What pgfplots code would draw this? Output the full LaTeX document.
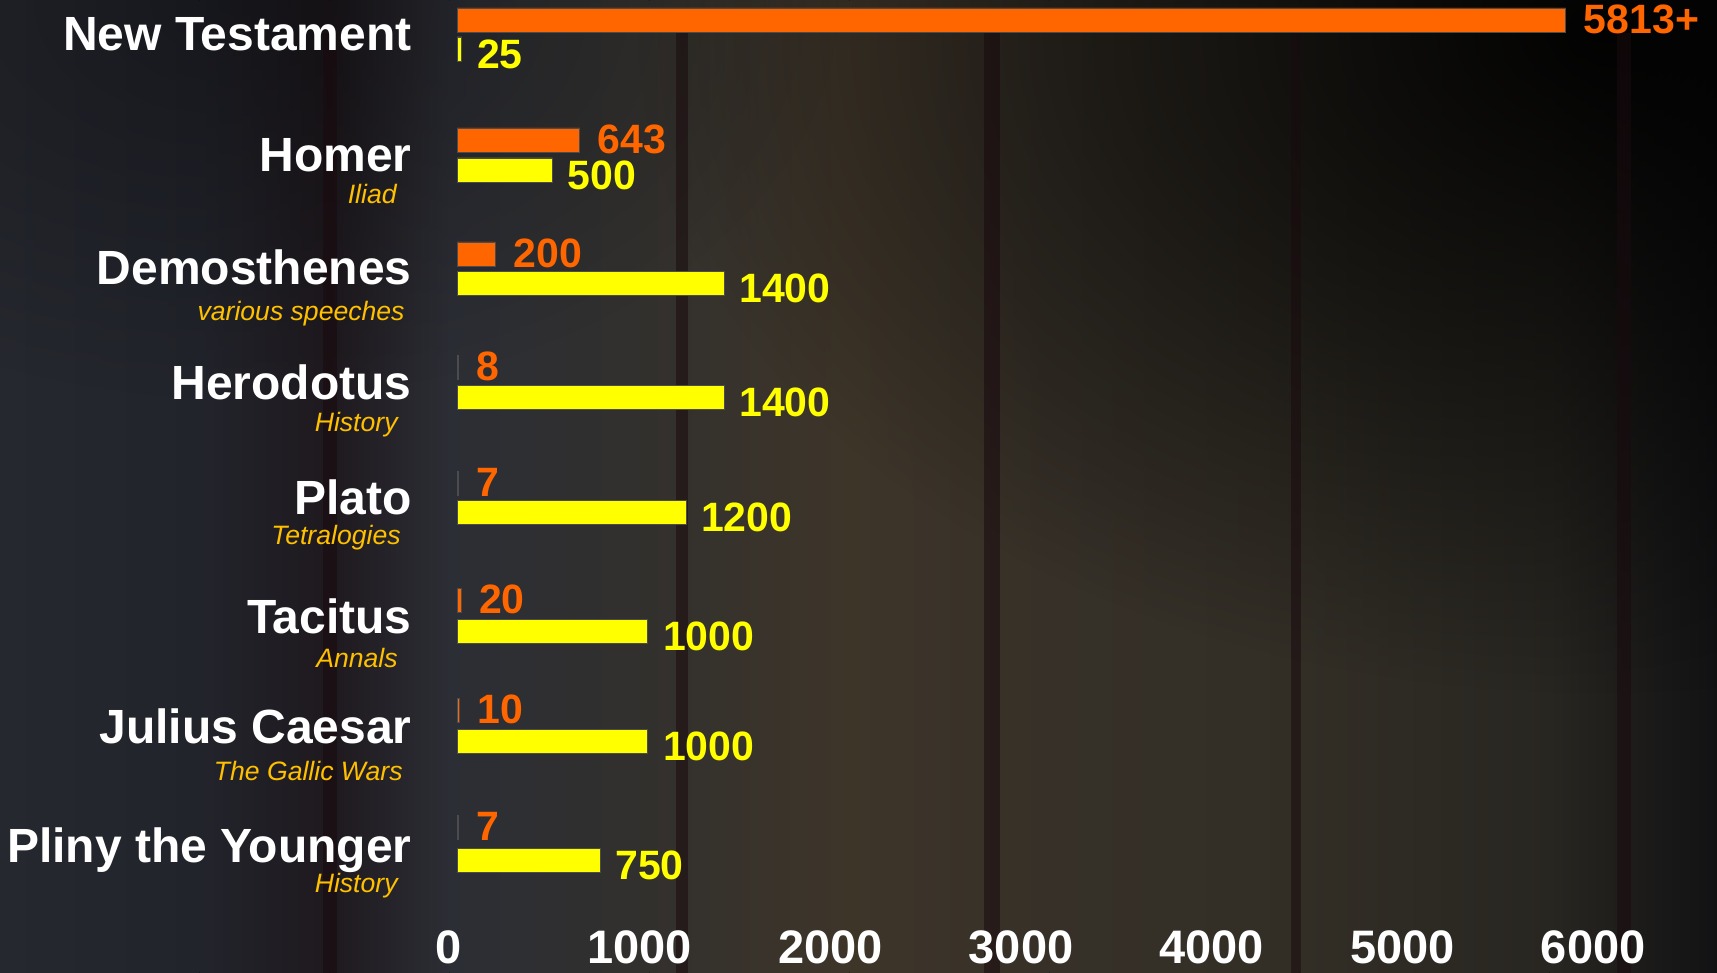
\documentclass[border=0pt]{standalone}
\usepackage{fontspec}
\setmainfont{Liberation Sans}
\usepackage{pgfplots}
\pgfplotsset{compat=1.18}
\usetikzlibrary{fadings}
\tikzfading[name=radfade, inner color=transparent!0, outer color=transparent!100]
\definecolor{barorange}{RGB}{255,102,0}
\definecolor{baryellow}{RGB}{255,255,0}
\definecolor{subgold}{RGB}{255,192,0}
\definecolor{bgA}{RGB}{38,40,47}
\definecolor{bgB}{RGB}{34,36,44}
\definecolor{bgC}{RGB}{30,25,30}
\definecolor{bgD}{RGB}{44,46,53}
\definecolor{bgE}{RGB}{50,48,45}
\definecolor{bgF}{RGB}{62,53,41}
\definecolor{bgG}{RGB}{54,48,40}
\definecolor{bgH}{RGB}{50,46,38}
\definecolor{bgI}{RGB}{40,38,33}
\definecolor{bgJ}{RGB}{18,18,20}
\definecolor{stripe}{RGB}{25,10,14}
\begin{document}
\begin{tikzpicture}[x=1pt,y=1pt]
% background (1 px = 0.5 pt), picture 858.5pt x 486.5pt
\foreach \xa/\xb/\ca/\cb in {0/100/bgA/bgB, 100/165/bgB/bgC, 165/225/bgC/bgD, 225/325/bgD/bgE, 325/425/bgE/bgF, 425/525/bgF/bgG, 525/650/bgG/bgH, 650/775/bgH/bgI, 775/858.5/bgI/bgJ}{
  \fill[left color=\ca, right color=\cb] (\xa-0.3,0) rectangle (\xb+0.3,486.5);
}
\begin{scope}
\clip (0,0) rectangle (858.5,486.5);
\fill[black, opacity=0.92, path fading=radfade] (800,470) ellipse (480 and 330);
\fill[black, opacity=0.35, path fading=radfade] (120,486.5) ellipse (300 and 200);
\end{scope}
\foreach \xc/\w in {165/7, 341/6, 496/8, 648/5, 812/7}{
  \fill[stripe, opacity=0.55] (\xc-\w/2,0) rectangle (\xc+\w/2,470);
}
\begin{axis}[
  at={(0,0)}, anchor=south west,
  scale only axis, width=858.5pt, height=486.5pt,
  xmin=-2396.4, xmax=6607.2, ymin=0, ymax=973, y dir=reverse,
  clip=false,
  axis line style={draw=none},
  major tick style={draw=none}, minor tick style={draw=none},
  /pgf/number format/assume math mode=true,
  xtick={0,1000,2000,3000,4000,5000,6000},
  xticklabels={0,1000,2000,3000,4000,5000,6000},
  x tick label style={font=\fontsize{23.5}{27}\selectfont\bfseries, text=white, anchor=base, inner sep=0pt, yshift=5pt, xshift=-4pt},
  ytick={49,170,283,397,512,631,741,860},
  yticklabels={New Testament,Homer,Demosthenes,Herodotus,Plato,Tacitus,Julius Caesar,Pliny the Younger},
  y tick label style={font=\fontsize{24}{28}\selectfont\bfseries, text=white, anchor=base east, inner sep=0pt, xshift=206pt, yshift=-1pt},
]
% number of manuscripts (orange)
\addplot[xbar, bar width=12pt, bar shift=0pt, fill=barorange, draw=black!70, line width=0.3pt,
  point meta=explicit symbolic, nodes near coords,
  every node near coord/.style={anchor=west, inner sep=0pt, xshift=9pt, yshift=0.5pt, font=\fontsize{20.5}{24}\selectfont\bfseries, text=barorange}]
  coordinates {(5813,20)[5813+] (643,140)[643] (200,254)[200] (8,367)[8] (7,483)[7] (20,600)[20] (10,710)[10] (7,827)[7]};
% years gap (yellow)
\addplot[xbar, bar width=12pt, bar shift=0pt, fill=baryellow, draw=black!70, line width=0.3pt,
  point meta=explicit symbolic, nodes near coords,
  every node near coord/.style={anchor=west, inner sep=0pt, xshift=7.5pt, yshift=-2.5pt, font=\fontsize{20.5}{24}\selectfont\bfseries, text=baryellow}]
  coordinates {(25,49)[25] (500,170)[500] (1400,283)[1400] (1400,397)[1400] (1200,512)[1200] (1000,631)[1000] (1000,741)[1000] (750,860)[750]};
% subtitles
\tikzset{sub/.style={anchor=base east, inner sep=0pt, font=\fontsize{13.3}{16}\selectfont\itshape, text=subgold}}
\node[sub] at (axis cs:-314.6,204) {Iliad};
\node[sub] at (axis cs:-272.7,320) {various speeches};
\node[sub] at (axis cs:-309.4,431) {History};
\node[sub] at (axis cs:-293.7,544) {Tetralogies};
\node[sub] at (axis cs:-309.4,667) {Annals};
\node[sub] at (axis cs:-283.2,780) {The Gallic Wars};
\node[sub] at (axis cs:-309.4,892) {History};
\end{axis}
\pgfresetboundingbox
\path (0,0) rectangle (858.5,486.5);
\end{tikzpicture}
\end{document}
